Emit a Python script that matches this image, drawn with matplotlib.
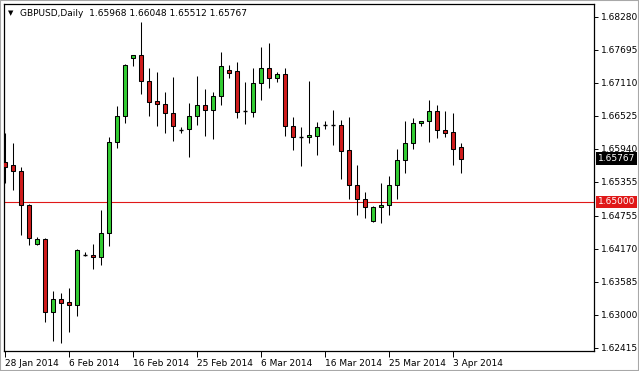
import matplotlib

matplotlib.use("Agg")

import matplotlib.pyplot as plt
import pandas as pd
from matplotlib.patches import Rectangle

TITLE = "GBPUSD,Daily  1.65968 1.66048 1.65512 1.65767"

opens = [1.65709, 1.65656, 1.65550, 1.64947, 1.64255, 1.64344, 1.63050, 1.63280, 1.63227, 1.63174,
         1.64060, 1.64060, 1.64025, 1.64450, 1.66064, 1.66525, 1.67553, 1.67606, 1.67145, 1.66791,
         1.66737, 1.66578, 1.66277, 1.66294, 1.66525, 1.66720, 1.66631, 1.66879, 1.67340, 1.67323,
         1.66613, 1.66596, 1.67110, 1.67376, 1.67198, 1.67269, 1.66347, 1.66152, 1.66152, 1.66170,
         1.66365, 1.66365, 1.66365, 1.65922, 1.65301, 1.65053, 1.64663, 1.64911, 1.64947, 1.65301,
         1.65745, 1.66046, 1.66401, 1.66436, 1.66613, 1.66277, 1.66241, 1.65968]
highs = [1.66223, 1.66046, 1.65621, 1.64964, 1.64379, 1.64362, 1.63422, 1.63387, 1.63475, 1.64167,
         1.64113, 1.64255, 1.64858, 1.66152, 1.66702, 1.67447, 1.67606, 1.68191, 1.67376, 1.67305,
         1.66950, 1.67216, 1.66330, 1.66755, 1.67234, 1.67003, 1.66950, 1.67659, 1.67429, 1.67482,
         1.67128, 1.67376, 1.67748, 1.67819, 1.67305, 1.67376, 1.66507, 1.66330, 1.67145, 1.66418,
         1.66436, 1.66631, 1.66454, 1.66507, 1.65656, 1.65177, 1.64929, 1.65337, 1.65461, 1.65940,
         1.66436, 1.66489, 1.66436, 1.66808, 1.66720, 1.66613, 1.66578, 1.66048]
lows = [1.65337, 1.65213, 1.64415, 1.64238, 1.64238, 1.62872, 1.62535, 1.62500, 1.62695, 1.62979,
        1.64043, 1.63812, 1.63883, 1.64220, 1.65957, 1.66401, 1.67411, 1.66915, 1.66525, 1.66347,
        1.66223, 1.66081, 1.66223, 1.65798, 1.66365, 1.66170, 1.66117, 1.66720, 1.67198, 1.66489,
        1.66383, 1.66507, 1.66808, 1.67021, 1.67128, 1.66170, 1.65922, 1.65638, 1.66046, 1.65833,
        1.66294, 1.66011, 1.65408, 1.65053, 1.64769, 1.64716, 1.64645, 1.64628, 1.64769, 1.65053,
        1.65514, 1.65940, 1.66347, 1.66064, 1.66135, 1.66152, 1.65656, 1.65512]
closes = [1.65621, 1.65550, 1.64947, 1.64362, 1.64344, 1.63050, 1.63280, 1.63209, 1.63174, 1.64149,
          1.64060, 1.64025, 1.64450, 1.66064, 1.66525, 1.67429, 1.67606, 1.67145, 1.66773, 1.66737,
          1.66578, 1.66347, 1.66277, 1.66525, 1.66720, 1.66631, 1.66879, 1.67411, 1.67287, 1.66596,
          1.66613, 1.67110, 1.67376, 1.67198, 1.67269, 1.66347, 1.66152, 1.66152, 1.66188, 1.66330,
          1.66365, 1.66365, 1.65904, 1.65301, 1.65053, 1.64911, 1.64911, 1.64947, 1.65301, 1.65745,
          1.66046, 1.66401, 1.66436, 1.66613, 1.66277, 1.66223, 1.65940, 1.65767]

price_ticks = [1.68280, 1.67695, 1.67110, 1.66525, 1.65940, 1.65355,
               1.64755, 1.64170, 1.63585, 1.63000, 1.62415]
level = 1.65000

# daily bars incl. Sunday sessions
dates = pd.bdate_range("2014-01-28", periods=len(opens), freq="C",
                       weekmask="Sun Mon Tue Wed Thu Fri")

BULL = "#32CD32"
BEAR = "#D01C1C"
W, H = 639, 371

fig = plt.figure(figsize=(W / 100, H / 100), dpi=100)
ax = fig.add_axes([4 / W, 20 / H, 590 / W, 347 / H])

body_w = 0.6
for i, (o, h, l, c) in enumerate(zip(opens, highs, lows, closes)):
    ax.vlines(i, l, h, color="black", lw=0.75, zorder=2)
    if o == c:
        ax.hlines(o, i - body_w / 2, i + body_w / 2, color="black", lw=1.0, zorder=3)
        continue
    color = BULL if c > o else BEAR
    ax.add_patch(Rectangle((i - body_w / 2, min(o, c)), body_w, abs(c - o),
                           facecolor=color, edgecolor="black", lw=0.75, zorder=3))

ax.axhline(level, color="#E01818", lw=0.8, zorder=1)

ax.set_xlim(-0.125, 73.625)
ax.set_ylim(1.62358, 1.68510)

ax.yaxis.tick_right()
ax.set_yticks(price_ticks)
ax.set_yticklabels([f"{p:.5f}" for p in price_ticks])
ax.tick_params(axis="y", direction="out", length=3, width=0.7, pad=2, labelsize=6.5)

xt = list(range(0, len(dates), 8))
ax.set_xticks(xt)
ax.set_xticklabels([f"{dates[k].day} {dates[k]:%b %Y}" for k in xt], ha="left")
ax.tick_params(axis="x", direction="out", length=4, width=0.7, pad=2, labelsize=6.5)

for s in ax.spines.values():
    s.set_color("black")
    s.set_linewidth(0.9)

ytr = ax.get_yaxis_transform()
ax.text(1.007, closes[-1], f"{closes[-1]:.5f}", transform=ytr, color="white", fontsize=6.5,
        va="center", ha="left", bbox=dict(boxstyle="square,pad=0.2", fc="black", ec="none"))
ax.text(1.007, level, f"{level:.5f}", transform=ytr, color="white", fontsize=6.5,
        va="center", ha="left", bbox=dict(boxstyle="square,pad=0.2", fc="#E01818", ec="none"))

fig.text(8 / W, 1 - 13 / H, "\u25bc", fontsize=5, va="center", ha="left")
fig.text(20 / W, 1 - 13 / H, TITLE, fontsize=6.5, va="center", ha="left")

fig.patches.append(Rectangle((0, 0), 1, 1, transform=fig.transFigure, fill=False,
                             ec="#a8a8a8", lw=1.5))

fig.savefig("out.png", dpi=100)
plt.close(fig)
